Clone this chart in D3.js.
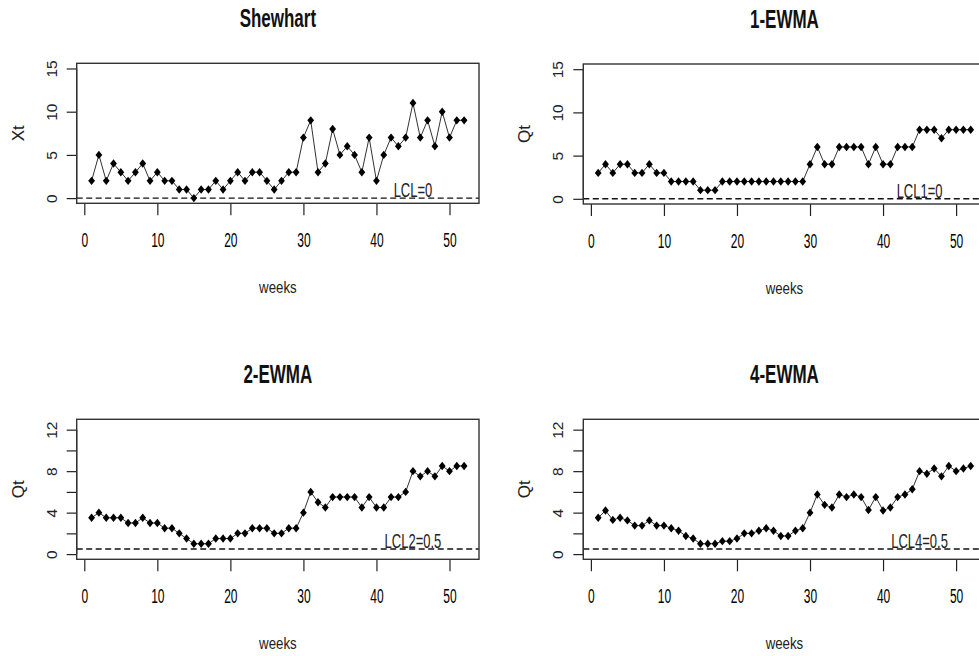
<!DOCTYPE html>
<html>
<head>
<meta charset="utf-8">
<script src="https://cdn.jsdelivr.net/npm/d3@7"></script>
<style>
  body { margin: 0; background: #fff; }
  svg { display: block; font-family: "Liberation Sans", Arial, sans-serif; }
</style>
</head>
<body>
<svg id="chart" width="979" height="656"></svg>
<script>
// weekly values
const weeks = d3.range(1, 53);

const shewhart = [2,5,2,4,3,2,3,4,2,3, 2,2,1,1,0,1,1,2,1,2, 3,2,3,3,2,1,2,3,3,7,
    9,3,4,8,5,6,5,3,7,2, 5,7,6,7,11,7,9,6,10,7, 9,9];

const ewma1 = [3,4,3,4,4,3,3,4,3,3, 2,2,2,2,1,1,1,2,2,2, 2,2,2,2,2,2,2,2,2,4,
    6,4,4,6,6,6,6,4,6,4, 4,6,6,6,8,8,8,7,8,8, 8,8];

const ewma2 = [3.5,4,3.5,3.5,3.5,3,3,3.5,3,3, 2.5,2.5,2,1.5,1,1,1,1.5,1.5,1.5,
    2,2,2.5,2.5,2.5,2,2,2.5,2.5,4, 6,5,4.5,5.5,5.5,5.5,5.5,4.5,5.5,4.5,
    4.5,5.5,5.5,6,8,7.5,8,7.5,8.5,8, 8.5,8.5];

const ewma4 = [3.5,4.2,3.3,3.5,3.25,2.75,2.75,3.25,2.75,2.75, 2.5,2.25,1.75,1.5,1,1,1,1.25,1.25,1.5,
    2,2,2.25,2.5,2.25,1.75,1.75,2.25,2.5,4, 5.75,4.75,4.5,5.75,5.5,5.75,5.5,4.25,5.5,4.2,
    4.5,5.5,5.75,6.25,8,7.75,8.25,7.5,8.5,8, 8.25,8.5];

const xTicks = [0, 10, 20, 30, 40, 50];
const titles = ["Shewhart", "1-EWMA", "2-EWMA", "4-EWMA"];
const yLabels = ["Xt", "Qt", "Qt", "Qt"];
const lclValues = [0, 0, 0.5, 0.5];
const lclLabels = ["LCL=0", "LCL1=0", "LCL2=0.5", "LCL4=0.5"];

const panels = [
    { data: shewhart, yDomain: [-0.6, 15.6], yTicks: [0, 5, 10, 15], yShown: [0, 5, 10, 15], left: 76.7, top: 63.3 },
    { data: ewma1, yDomain: [-0.6, 15.6], yTicks: [0, 5, 10, 15], yShown: [0, 5, 10, 15], left: 583.3, top: 64 },
    { data: ewma2, yDomain: [-0.5, 13], yTicks: [0, 2, 4, 6, 8, 10, 12], yShown: [0, 4, 8, 12], left: 76.7, top: 419.3 },
    { data: ewma4, yDomain: [-0.5, 13], yTicks: [0, 2, 4, 6, 8, 10, 12], yShown: [0, 4, 8, 12], left: 583.3, top: 419.3 }
];

const boxW = 402.3, boxH = 140;
const svg = d3.select("#chart");
svg.append("rect").attr("width", 979).attr("height", 656).attr("fill", "#fff");

panels.forEach((p, i) => {
    const g = svg.append("g").attr("transform", `translate(${p.left}, ${p.top})`);

    const x = d3.scaleLinear().domain([-1.04, 54.04]).range([0, boxW]);
    const y = d3.scaleLinear().domain(p.yDomain).range([boxH, 0]);

    // x axis
    const xa = g.append("g")
        .attr("transform", `translate(0, ${boxH})`)
        .call(d3.axisBottom(x).tickValues(xTicks).tickSize(12).tickPadding(0).tickSizeOuter(0));
    xa.select(".domain").remove();
    xa.selectAll(".tick line").attr("stroke", "#222").attr("stroke-width", 1.2);
    xa.selectAll(".tick text")
        .attr("y", 44).attr("dy", 0)
        .attr("transform", "scale(0.6, 1)")
        .style("font-size", "20px").attr("fill", "#000");

    // y axis, labels parallel to the axis
    const ya = g.append("g")
        .call(d3.axisLeft(y).tickValues(p.yTicks).tickSize(10).tickSizeOuter(0)
            .tickFormat(d => p.yShown.includes(d) ? d : ""));
    ya.select(".domain").remove();
    ya.append("line")
        .attr("y1", y(d3.min(p.yTicks))).attr("y2", y(d3.max(p.yTicks)))
        .attr("stroke", "#222").attr("stroke-width", 1.2);
    ya.selectAll(".tick line").attr("stroke", "#222").attr("stroke-width", 1.2);
    ya.selectAll(".tick text")
        .attr("x", null).attr("dy", 0)
        .attr("text-anchor", "middle")
        .attr("transform", "translate(-20, 0) rotate(-90)")
        .style("font-size", "15.5px").attr("fill", "#222");

    // control limit
    g.append("line")
        .attr("x1", 0).attr("x2", boxW)
        .attr("y1", y(lclValues[i])).attr("y2", y(lclValues[i]))
        .attr("stroke", "#111").attr("stroke-width", 1.4)
        .attr("stroke-dasharray", "6,3.5");

    g.append("text")
        .attr("transform", `translate(${x(45)}, ${y(lclValues[i]) - 1}) scale(0.65, 1)`)
        .attr("text-anchor", "middle")
        .style("font-size", "20px").attr("fill", "#222")
        .text(lclLabels[i]);

    // series
    const pts = weeks.map((w, k) => ({ week: w, value: p.data[k] }));
    g.append("path")
        .datum(pts)
        .attr("fill", "none")
        .attr("stroke", "#333")
        .attr("stroke-width", 1)
        .attr("d", d3.line().x(d => x(d.week)).y(d => y(d.value)));

    g.selectAll(".pt")
        .data(pts)
        .enter()
        .append("path")
        .attr("class", "pt")
        .attr("transform", d => `translate(${x(d.week)}, ${y(d.value)})`)
        .attr("d", "M0,-4.2L3.4,0L0,4.2L-3.4,0Z")
        .attr("fill", "#000");

    // frame
    g.append("rect")
        .attr("width", boxW).attr("height", boxH)
        .attr("fill", "none").attr("stroke", "#333").attr("stroke-width", 1.4);

    // titles and axis labels
    g.append("text")
        .attr("transform", `translate(${boxW / 2}, -36) scale(0.68, 1)`)
        .attr("text-anchor", "middle")
        .style("font-size", "25px").style("font-weight", "bold").attr("fill", "#111")
        .text(titles[i]);

    g.append("text")
        .attr("transform", `translate(${boxW / 2}, ${boxH + 90}) scale(0.78, 1)`)
        .attr("text-anchor", "middle")
        .style("font-size", "17px").attr("fill", "#222")
        .text("weeks");

    g.append("text")
        .attr("transform", `translate(-53, ${boxH / 2}) rotate(-90)`)
        .attr("text-anchor", "middle")
        .style("font-size", "17px").attr("fill", "#222")
        .text(yLabels[i]);
});
</script>
</body>
</html>
